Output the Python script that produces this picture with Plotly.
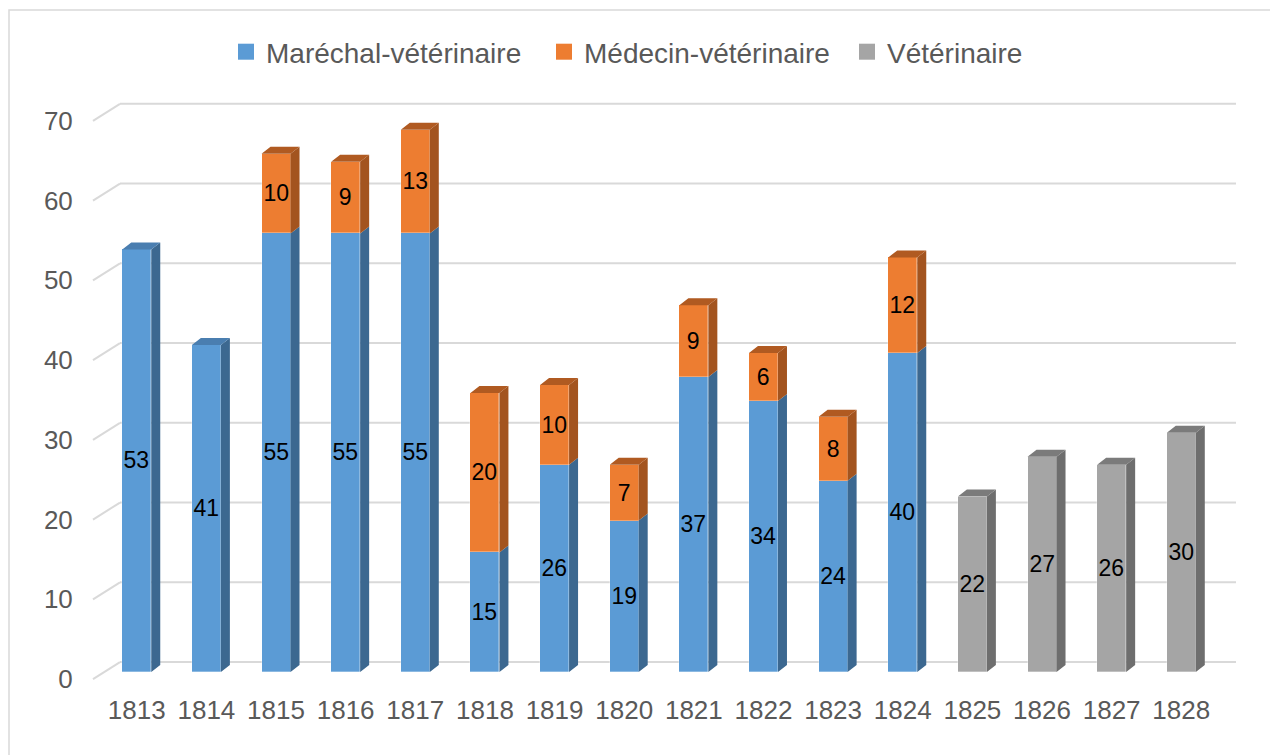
import plotly.graph_objects as go

years = ["1813", "1814", "1815", "1816", "1817", "1818", "1819", "1820",
         "1821", "1822", "1823", "1824", "1825", "1826", "1827", "1828"]
marechal = [53, 41, 55, 55, 55, 15, 26, 19, 37, 34, 24, 40, None, None, None, None]
medecin = [None, None, 10, 9, 13, 20, 10, 7, 9, 6, 8, 12, None, None, None, None]
veterinaire = [None] * 12 + [22, 27, 26, 30]
y_ticks = [0, 10, 20, 30, 40, 50, 60, 70]

series_names = ["Maréchal-vétérinaire", "Médecin-vétérinaire", "Vétérinaire"]
front_cols = ["#5b9bd5", "#ed7d31", "#a5a5a5"]
side_cols = ["#3c6890", "#a3541f", "#6e6e6e"]
top_cols = ["#4a7eb0", "#b05a21", "#7b7b7b"]

FONT = "Liberation Sans, Arial"

# figure geometry (style only)
W, H = 1270, 747
ML, MR, MT, MB = 80, 41, 66, 75
PW, PH = W - ML - MR, H - MT - MB
X_RANGE = [-0.7, 15.8]
Y_RANGE = [-1, 75]
PX_X = PW / (X_RANGE[1] - X_RANGE[0])
PX_Y = PH / (Y_RANGE[1] - Y_RANGE[0])
BW = 29 / PX_X
DX = 9 / PX_X
DY = 7 / PX_Y

xs = list(range(len(years)))
fig = go.Figure()

# 3D side/top faces derived from the data
base = [0.0] * len(years)
all_series = [marechal, medecin, veterinaire]
for si, vals in enumerate(all_series):
    sx, sy, tx, ty = [], [], [], []
    for i, v in enumerate(vals):
        if v is None:
            continue
        y0 = base[i]
        y1 = y0 + v
        x1 = i + BW / 2
        x0 = i - BW / 2
        sx += [x1, x1 + DX, x1 + DX, x1, x1, None]
        sy += [y0, y0 + DY, y1 + DY, y1, y0, None]
        above = [s[i] for s in all_series[si + 1:] if s[i] is not None]
        if not above:
            tx += [x0, x0 + DX, x1 + DX, x1, x0, None]
            ty += [y1, y1 + DY, y1 + DY, y1, y1, None]
        base[i] = y1
    fig.add_trace(go.Scatter(x=sx, y=sy, mode="lines", fill="toself",
                             fillcolor=side_cols[si], line=dict(width=0),
                             showlegend=False, hoverinfo="skip"))
    fig.add_trace(go.Scatter(x=tx, y=ty, mode="lines", fill="toself",
                             fillcolor=top_cols[si], line=dict(width=0),
                             showlegend=False, hoverinfo="skip"))

for si, vals in enumerate(all_series):
    fig.add_trace(go.Bar(
        x=xs, y=vals, name=series_names[si], width=BW, showlegend=False,
        marker=dict(color=front_cols[si], line=dict(color="rgba(255,255,255,0.5)", width=0.6)),
        text=[str(v) if v is not None else "" for v in vals],
        textposition="inside", insidetextanchor="middle",
        textfont=dict(size=23, color="#000000", family=FONT),
        constraintext="none",
    ))

# legend entries, one legend per item to place them like the original
legend_ids = ["legend", "legend2", "legend3"]
legend_px = [234, 552, 855]
for si, name in enumerate(series_names):
    fig.add_trace(go.Scatter(x=[None], y=[None], mode="markers", name=name,
                             legend=legend_ids[si],
                             marker=dict(symbol="square", size=18, color=front_cols[si])))

legend_y = 1 + (MT - 44) / PH
legend_layout = {}
for lid, px in zip(legend_ids, legend_px):
    legend_layout[lid] = dict(
        orientation="h", x=(px - 8 - 8 - ML) / PW, xanchor="left", xref="paper",
        y=legend_y, yanchor="middle", yref="paper",
        font=dict(size=28, color="#595959", family=FONT),
        itemwidth=30, bgcolor="rgba(0,0,0,0)",
    )

# back-wall gridlines with depth offset
LBL = -7 / PX_Y
G_DY = 17 / PX_Y
x_of = lambda px: X_RANGE[0] + (px - 8 - ML) / PX_X
gx_front = x_of(93)
gx_back = x_of(120)
gx_end = x_of(1236)
for v in y_ticks:
    yb = v + LBL + G_DY
    fig.add_shape(type="line", x0=gx_back, x1=gx_end, y0=yb, y1=yb,
                  xref="x", yref="y", line=dict(color="#d9d9d9", width=2), layer="below")
    fig.add_shape(type="line", x0=gx_front, x1=gx_back, y0=v + LBL, y1=yb,
                  xref="x", yref="y", line=dict(color="#d9d9d9", width=2), layer="below")

# chart border (left and top visible)
bx0 = (9 - 8 - ML) / PW
by1 = 1 + (MT - (10 - 8)) / PH
fig.add_shape(type="rect", xref="paper", yref="paper", x0=bx0, x1=1.2, y0=-0.3, y1=by1,
              line=dict(color="#d9d9d9", width=1.5))

fig.update_layout(
    width=W, height=H,
    barmode="stack",
    plot_bgcolor="white", paper_bgcolor="white",
    margin=dict(l=ML, r=MR, t=MT, b=MB, autoexpand=False),
    font=dict(family=FONT, color="#595959", size=26),
    showlegend=True,
    bargap=0,
    **legend_layout,
)
fig.update_xaxes(range=X_RANGE, tickvals=xs, ticktext=years, showgrid=False,
                 zeroline=False, showline=False, ticks="outside", ticklen=7,
                 tickcolor="rgba(0,0,0,0)", tickfont=dict(size=26, color="#595959", family=FONT))
fig.update_yaxes(range=Y_RANGE, tickvals=[v + LBL for v in y_ticks],
                 ticktext=[str(v) for v in y_ticks], showgrid=False, zeroline=False,
                 showline=False, ticks="outside", ticklen=9, tickcolor="rgba(0,0,0,0)",
                 tickfont=dict(size=26, color="#595959", family=FONT))

fig.write_html("out.html")
